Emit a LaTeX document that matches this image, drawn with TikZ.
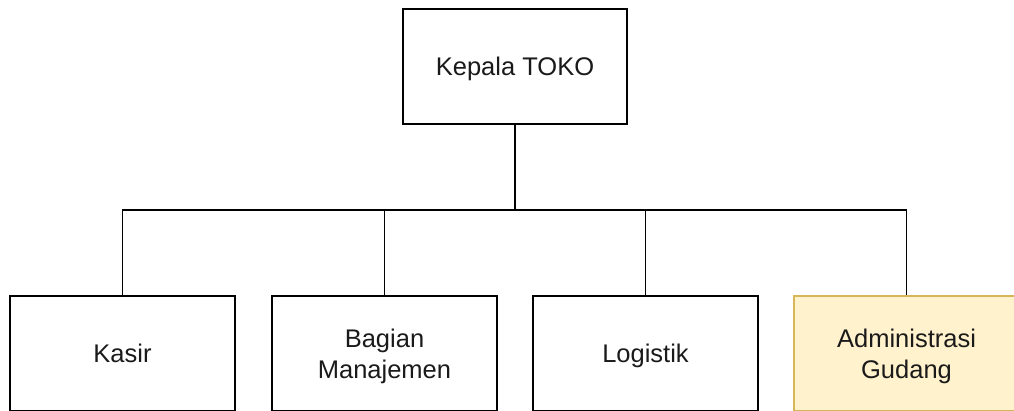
\documentclass[tikz,border=0pt]{standalone}
\usepackage{fontspec}
\setmainfont{Liberation Sans}
\usetikzlibrary{calc}
\definecolor{admfill}{HTML}{FFF2CC}
\definecolor{admdraw}{HTML}{D6B656}
\definecolor{inkc}{HTML}{1A1A1A}
\tikzset{
  orgbox/.style={draw=black, line width=1.5pt, fill=white, minimum width=225pt, minimum height=115pt, inner sep=0pt},
  admbox/.style={orgbox, draw=admdraw, fill=admfill},
  lbl/.style={inner sep=0pt, align=center, anchor=base, text=inkc, font=\fontsize{25.5}{31}\selectfont},
  conn/.style={draw=black, line width=1.5pt}
}
\begin{document}
\begin{tikzpicture}[x=1pt,y=-1pt]
\useasboundingbox (0,0) rectangle (1014,410);
\begin{scope}
\clip (0,0) rectangle (1014,410);
\node[orgbox, minimum width=224pt] (top) at (515,66.5) {};
\node[orgbox] (kasir) at (122.5,353.5) {};
\node[orgbox] (bagian) at (384.5,353.5) {};
\node[orgbox] (logistik) at (645.5,353.5) {};
\node[admbox] (admin) at (906.5,353.5) {};
\node[lbl] (topT) at ($(top.center)+(0,9.2)$) {Kepala TOKO};
\node[lbl] (kasirT) at ($(kasir.center)+(0,9.2)$) {Kasir};
\node[lbl] (bagianT) at ($(bagian.center)+(0,24.65)$) {Bagian\\Manajemen};
\node[lbl] (logistikT) at ($(logistik.center)+(0,9.2)$) {Logistik};
\node[lbl] (adminT) at ($(admin.center)+(0,24.65)$) {Administrasi\\Gudang};
\coordinate (bus) at (515,210);
\draw[conn] (top.south) -- (bus);
\draw[conn] (bus) -| (kasir.north);
\draw[conn] (bus) -| (bagian.north);
\draw[conn] (bus) -| (logistik.north);
\draw[conn] (bus) -| (admin.north);
\end{scope}
\end{tikzpicture}
\end{document}
